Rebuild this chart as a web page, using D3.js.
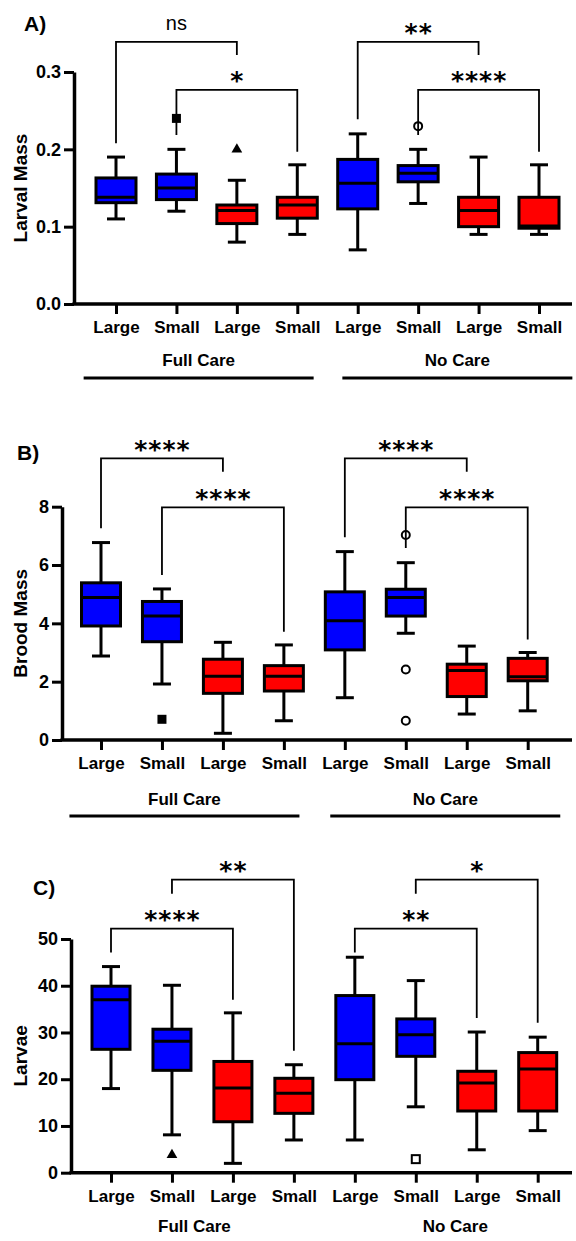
<!DOCTYPE html>
<html><head><meta charset="utf-8">
<script src="https://cdn.jsdelivr.net/npm/d3@7"></script>
<style>body{margin:0;background:#fff}</style>
</head><body>
<svg id="chart" width="576" height="1241"></svg>
<script>
// ---------- DATA ----------
const categories = ["Large","Small","Large","Small","Large","Small","Large","Small"];
const groups = ["Full Care","No Care"];
const colorGroup = [0,0,1,1,0,0,1,1];

// [min, q1, median, q3, max]
const larvalMass = [
  [0.11,0.131,0.138,0.163,0.19],
  [0.12,0.135,0.150,0.168,0.20],
  [0.08,0.104,0.121,0.128,0.16],
  [0.09,0.111,0.128,0.138,0.18],
  [0.07,0.123,0.156,0.187,0.22],
  [0.13,0.158,0.169,0.179,0.20],
  [0.09,0.100,0.121,0.138,0.19],
  [0.09,0.098,0.101,0.138,0.18]
];
const larvalMassOutliers = [[1,0.24,"fsquare"],[2,0.20,"ftri"],[5,0.23,"ocircle"]];
const larvalMassTicks = [0,0.1,0.2,0.3];
const larvalMassTickLabels = ["0.0","0.1","0.2","0.3"];
// [from, to, label, bracket level, left leg end, right leg end]
const larvalMassSig = [
  [0,2,"ns",0.339,0.208,0.322],
  [1,3,"*",0.277,0.2185,0.197],
  [4,6,"**",0.339,0.239,0.322],
  [5,7,"****",0.277,0.2185,0.197]
];

const broodMass = [
  [2.88,3.91,4.89,5.39,6.77],
  [1.92,3.37,4.25,4.75,5.18],
  [0.23,1.60,2.19,2.77,3.35],
  [0.66,1.68,2.19,2.55,3.26],
  [1.45,3.09,4.09,5.08,6.46],
  [3.66,4.25,4.89,5.17,6.08],
  [0.89,1.49,2.38,2.60,3.22],
  [1.00,2.03,2.17,2.80,3.00]
];
const broodMassOutliers = [[1,0.71,"fsquare"],[5,7.03,"ocircle"],[5,2.42,"ocircle"],[5,0.66,"ocircle"]];
const broodMassTicks = [0,2,4,6,8];
const broodMassTickLabels = ["0","2","4","6","8"];
const broodMassSig = [
  [0,2,"****",9.66,7.26,9.2],
  [1,3,"****",7.98,5.66,3.71],
  [4,6,"****",9.66,6.95,9.2],
  [5,7,"****",7.98,6.58,3.45]
];

const larvae = [
  [18,26.4,37,39.9,44.1],
  [8.1,21.9,28.1,30.7,40.1],
  [2,10.9,18.1,23.8,34.2],
  [7,12.7,17,20.2,23.1],
  [7,19.9,27.6,37.9,46.1],
  [14.1,24.9,29.5,32.9,41.1],
  [4.9,13.2,19.2,21.7,30.1],
  [9,13.2,22.2,25.7,29]
];
const larvaeOutliers = [[1,3.8,"ftri"],[5,2.9,"osquare"]];
const larvaeTicks = [0,10,20,30,40,50];
const larvaeTickLabels = ["0","10","20","30","40","50"];
const larvaeSig = [
  [1,3,"**",62.7,59.7,26.1],
  [0,2,"****",52.2,47.1,37.0],
  [5,7,"*",62.7,59.7,32.1],
  [4,6,"**",52.2,47.1,33.1]
];

// ---------- LAYOUT / STYLE ----------
const FONT = "'Liberation Sans', Arial, Helvetica, sans-serif";
const color = d3.scaleOrdinal().domain([0,1]).range(["#0000ff","#ff0000"]);
const svg = d3.select("#chart");

const panels = [
  {letter:"A)", title:"Larval Mass", stats:larvalMass, outliers:larvalMassOutliers, ticks:larvalMassTicks, tickLabels:larvalMassTickLabels, sig:larvalMassSig,
   axisX:74, yZero:304, yTop:72, xFirst:116, xLast:539, letterX:24, letterY:31, groupY:366, lineY:378, showLines:true, boxW:40},
  {letter:"B)", title:"Brood Mass", stats:broodMass, outliers:broodMassOutliers, ticks:broodMassTicks, tickLabels:broodMassTickLabels, sig:broodMassSig,
   axisX:62, yZero:740, yTop:506.7, xFirst:101, xLast:527.7, letterX:17, letterY:460, groupY:805, lineY:816, showLines:true, boxW:39},
  {letter:"C)", title:"Larvae", stats:larvae, outliers:larvaeOutliers, ticks:larvaeTicks, tickLabels:larvaeTickLabels, sig:larvaeSig,
   axisX:71, yZero:1172.7, yTop:939, xFirst:111, xLast:537.7, letterX:33, letterY:895, groupY:1232, lineY:null, showLines:false, boxW:38}
];

panels.forEach(p => {
  const g = svg.append("g");
  const idx = d3.range(categories.length);
  const x = d3.scalePoint().domain(idx).range([p.xFirst, p.xLast]);
  const y = d3.scaleLinear().domain([p.ticks[0], p.ticks[p.ticks.length-1]]).range([p.yZero, p.yTop]);

  // y axis
  const yAxis = d3.axisLeft(y).tickValues(p.ticks).tickFormat((d,i)=>p.tickLabels[i]).tickSize(10).tickPadding(3).tickSizeOuter(0);
  const ya = g.append("g").attr("transform",`translate(${p.axisX},0)`).call(yAxis);
  ya.select(".domain").attr("stroke","#000").attr("stroke-width",3.5);
  ya.selectAll(".tick line").attr("stroke","#000").attr("stroke-width",3);
  ya.selectAll(".tick text").attr("font-family",FONT).attr("font-weight","bold").attr("font-size",18).attr("fill","#000");

  // x axis
  const xAxis = d3.axisBottom(x).tickFormat(i=>categories[i]).tickSize(10).tickSizeOuter(0);
  const xa = g.append("g").attr("transform",`translate(0,${p.yZero})`).call(xAxis);
  xa.select(".domain").remove();
  xa.selectAll(".tick line").attr("stroke","#000").attr("stroke-width",3);
  xa.selectAll(".tick text").attr("y",29).attr("dy",null).attr("font-family",FONT).attr("font-weight","bold").attr("font-size",17).attr("fill","#000");
  g.append("line").attr("x1",p.axisX-1.5).attr("x2",572).attr("y1",p.yZero).attr("y2",p.yZero).attr("stroke","#000").attr("stroke-width",3.5);

  // y title
  g.append("text").attr("transform",`translate(27,${(p.yZero+p.yTop)/2}) rotate(-90)`)
    .attr("text-anchor","middle").attr("font-family",FONT).attr("font-weight","bold").attr("font-size",19).text(p.title);

  // panel letter
  g.append("text").attr("x",p.letterX).attr("y",p.letterY).attr("font-family",FONT).attr("font-weight","bold").attr("font-size",21).text(p.letter);

  // group labels
  const gc = [ (x(0)+x(3))/2 - 8, (x(4)+x(7))/2 + 9 ];
  groups.forEach((gname,k)=>{
    g.append("text").attr("x",gc[k]).attr("y",p.groupY).attr("text-anchor","middle")
      .attr("font-family",FONT).attr("font-weight","bold").attr("font-size",17).text(gname);
    if (p.showLines) {
      g.append("line").attr("x1",gc[k]-115).attr("x2",gc[k]+115).attr("y1",p.lineY).attr("y2",p.lineY)
        .attr("stroke","#000").attr("stroke-width",3.2);
    }
  });

  // boxes
  const bw = p.boxW, cap = 18;
  const bx = g.selectAll(".box").data(p.stats).join("g").attr("class","box");
  bx.append("line").attr("x1",(d,i)=>x(i)).attr("x2",(d,i)=>x(i)).attr("y1",d=>y(d[4])).attr("y2",d=>y(d[0]))
    .attr("stroke","#000").attr("stroke-width",3);
  bx.append("line").attr("x1",(d,i)=>x(i)-cap/2).attr("x2",(d,i)=>x(i)+cap/2).attr("y1",d=>y(d[4])).attr("y2",d=>y(d[4]))
    .attr("stroke","#000").attr("stroke-width",3);
  bx.append("line").attr("x1",(d,i)=>x(i)-cap/2).attr("x2",(d,i)=>x(i)+cap/2).attr("y1",d=>y(d[0])).attr("y2",d=>y(d[0]))
    .attr("stroke","#000").attr("stroke-width",3);
  bx.append("rect").attr("x",(d,i)=>x(i)-bw/2).attr("width",bw).attr("y",d=>y(d[3])).attr("height",d=>y(d[1])-y(d[3]))
    .attr("fill",(d,i)=>color(colorGroup[i])).attr("stroke","#000").attr("stroke-width",3);
  bx.append("line").attr("x1",(d,i)=>x(i)-bw/2).attr("x2",(d,i)=>x(i)+bw/2).attr("y1",d=>y(d[2])).attr("y2",d=>y(d[2]))
    .attr("stroke","#000").attr("stroke-width",3);

  // significance brackets
  p.sig.forEach(s=>{
    const [a,b,lab,lv,le,re] = s;
    g.append("path").attr("d",`M${x(a)},${y(le)}V${y(lv)}H${x(b)}V${y(re)}`)
      .attr("fill","none").attr("stroke","#000").attr("stroke-width",1.8);
    const cx = (x(a)+x(b))/2;
    if (lab === "ns") {
      g.append("text").attr("x",cx).attr("y",y(lv)-12).attr("text-anchor","middle")
        .attr("font-family",FONT).attr("font-size",20).text(lab);
    } else {
      g.append("text").attr("x",cx+0.5).attr("y",y(lv)-0.5).attr("text-anchor","middle")
        .attr("font-family","'DejaVu Sans', sans-serif").attr("font-weight","bold").attr("font-size",25)
        .attr("letter-spacing",1).text(lab);
    }
  });

  // outliers (drawn after brackets)
  p.outliers.forEach(o=>{
    const [i,v,shape] = o;
    const cx = x(i), cy = y(v);
    if (shape === "fsquare") {
      g.append("rect").attr("x",cx-4.5).attr("y",cy-4.5).attr("width",9).attr("height",9).attr("fill","#000");
    } else if (shape === "osquare") {
      g.append("rect").attr("x",cx-4).attr("y",cy-4).attr("width",8).attr("height",8).attr("fill","#fff").attr("stroke","#000").attr("stroke-width",2);
    } else if (shape === "ftri") {
      g.append("path").attr("transform",`translate(${cx},${cy})`).attr("d",d3.symbol(d3.symbolTriangle,50)()).attr("fill","#000");
    } else {
      g.append("circle").attr("cx",cx).attr("cy",cy).attr("r",4).attr("fill","none").attr("stroke","#000").attr("stroke-width",2);
    }
  });
});
</script>
</body></html>
